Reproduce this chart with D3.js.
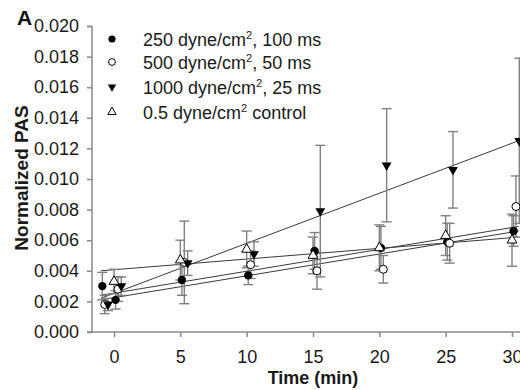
<!DOCTYPE html>
<html><head><meta charset="utf-8">
<script src="https://cdn.jsdelivr.net/npm/d3@7"></script>
<style>body{margin:0;background:#fff}svg{display:block}</style>
</head><body>
<svg id="c" width="520" height="390"></svg>
<script>
// ---- data ----
const seriesNames = ["250 dyne/cm², 100 ms","500 dyne/cm², 50 ms","1000 dyne/cm², 25 ms","0.5 dyne/cm² control"];
const times = [-1, 0, 5, 10, 15, 20, 25, 30];
const offsets = [0.12, 0.3, 0.55, 0]; // horizontal jitter per series (minutes)
const mean250  = [0.0030, 0.0021, 0.0034, 0.0037, 0.0053, 0.0055, 0.0059, 0.0066];
const err250   = [0.0009, 0.0006, 0.0010, 0.0006, 0.0012, 0.0014, 0.0012, 0.0010];
const mean500  = [0.0018, 0.0028, 0.00455, 0.0044, 0.0040, 0.0041, 0.0058, 0.0082];
const err500   = [0.0006, 0.0008, 0.0027, 0.0009, 0.0012, 0.0009, 0.0013, 0.0020];
const mean1000 = [0.0018, 0.0030, 0.0045, 0.0051, 0.0079, 0.0109, 0.0106, 0.0125];
const err1000  = [0.0004, 0.0006, 0.0008, 0.0008, 0.0043, 0.0037, 0.0025, 0.0054];
const meanCtl  = [null,   0.0033, 0.0047, 0.0054, 0.0050, 0.0055, 0.0063, 0.0060];
const errCtl   = [null,   0.0008, 0.0013, 0.0012, 0.0012, 0.0015, 0.0013, 0.0017];
// fitted regression lines: value at t=-1 and t=30.5
const fitStart = [0.0021, 0.0024, 0.0022, 0.0040];
const fitEnd   = [0.0066, 0.0069, 0.0125, 0.0062];
const fitT = [-1, 30.5];
const yTicks = [0, 0.002, 0.004, 0.006, 0.008, 0.010, 0.012, 0.014, 0.016, 0.018, 0.020];
const xTicks = [0, 5, 10, 15, 20, 25, 30];

const means = [mean250, mean500, mean1000, meanCtl];
const errs = [err250, err500, err1000, errCtl];

const svg = d3.select("#c");
const x = d3.scaleLinear().domain([0, 30]).range([114, 512]);
const y = d3.scaleLinear().domain([0, 0.020]).range([332, 26]);
const axisColor = "#8a8a8a";
const font = "Liberation Sans, Arial, sans-serif";
const txt = "#1a1a1a";

// axes
const yAx = svg.append("g").attr("transform","translate(92,0)")
  .call(d3.axisLeft(y).tickValues(yTicks).tickFormat(d3.format(".3f")).tickSize(5).tickPadding(8));
yAx.select(".domain").attr("stroke", axisColor).attr("stroke-width",1.5).attr("d","M-5,26.5H0V332H-5");
yAx.selectAll(".tick line").attr("stroke", axisColor).attr("stroke-width",1.5);
yAx.selectAll("text").attr("font-family", font).attr("font-size", 18).attr("fill", txt);

const xAx = svg.append("g").attr("transform","translate(0,332)")
  .call(d3.axisBottom(x).tickValues(xTicks).tickSize(5).tickPadding(13));
xAx.select(".domain").attr("stroke", axisColor).attr("stroke-width",1.5).attr("d","M92,0H530");
xAx.selectAll(".tick line").attr("stroke", axisColor).attr("stroke-width",1.5);
xAx.selectAll("text").attr("font-family", font).attr("font-size", 18).attr("fill", txt);

// axis titles
svg.append("text").attr("x", 313).attr("y", 384).attr("text-anchor","middle")
  .attr("font-family", font).attr("font-weight","bold").attr("font-size",18).attr("fill", txt).text("Time (min)");
svg.append("text").attr("transform","translate(28,178) rotate(-90)").attr("text-anchor","middle")
  .attr("font-family", font).attr("font-weight","bold").attr("font-size",19).attr("fill", txt).text("Normalized PAS");
svg.append("text").attr("x", 17).attr("y", 25).attr("font-family", font).attr("font-weight","bold")
  .attr("font-size",21).attr("fill","#111").text("A");

// regression lines
const plot = svg.append("g");
fitStart.forEach((s, i) => {
  plot.append("line").attr("x1", x(fitT[0])).attr("y1", y(s)).attr("x2", x(fitT[1])).attr("y2", y(fitEnd[i]))
    .attr("stroke", "#3a3a3a").attr("stroke-width", 1);
});

// error bars
means.forEach((m, i) => {
  m.forEach((v, j) => {
    if (v == null) return;
    const cx = x(times[j] + offsets[i]);
    const e = errs[i][j];
    const g = plot.append("g").attr("stroke", "#808080").attr("stroke-width", 1.4);
    g.append("line").attr("x1", cx).attr("x2", cx).attr("y1", y(v + e)).attr("y2", y(v - e));
    g.append("line").attr("x1", cx-5).attr("x2", cx+5).attr("y1", y(v + e)).attr("y2", y(v + e));
    g.append("line").attr("x1", cx-5).attr("x2", cx+5).attr("y1", y(v - e)).attr("y2", y(v - e));
  });
});

// markers
function marker(g, i, cx, cy, s) {
  s = s || 1;
  if (i === 0) g.append("circle").attr("cx", cx).attr("cy", cy).attr("r", 4.2*s).attr("fill", "#000");
  else if (i === 1) g.append("circle").attr("cx", cx).attr("cy", cy).attr("r", 4*s).attr("fill", "#fff").attr("stroke","#000").attr("stroke-width",1);
  else if (i === 2) g.append("path").attr("d", d3.symbol(d3.symbolTriangle, 42*s*s)()).attr("transform", `translate(${cx},${cy}) rotate(180)`).attr("fill","#000");
  else g.append("path").attr("d", d3.symbol(d3.symbolTriangle, 42*s*s)()).attr("transform", `translate(${cx},${cy})`).attr("fill","#fff").attr("stroke","#000").attr("stroke-width",1);
}
means.forEach((m, i) => {
  m.forEach((v, j) => {
    if (v == null) return;
    marker(plot, i, x(times[j] + offsets[i]), y(v));
  });
});

// legend
const leg = svg.append("g");
const legY = [39, 62, 87, 112];
seriesNames.forEach((name, i) => {
  marker(leg, i, 112, legY[i], 0.85);
  const t = leg.append("text").attr("x", 143).attr("y", legY[i] + 7)
    .attr("font-family", font).attr("font-size", 18).attr("fill", txt);
  const parts = name.split("²");
  t.append("tspan").text(parts[0]);
  t.append("tspan").attr("font-size", 11).attr("dy", -7).text("2");
  t.append("tspan").attr("dy", 7).text(parts[1]);
});
</script>
</body></html>
